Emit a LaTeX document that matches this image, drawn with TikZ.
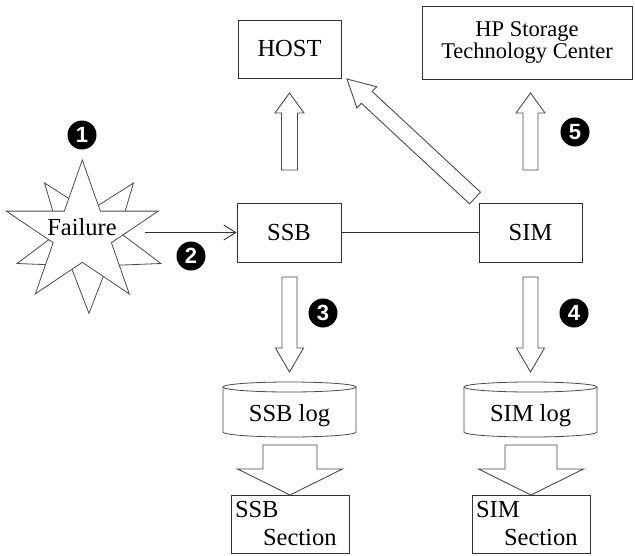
\documentclass[tikz,border=0pt]{standalone}
\usepackage{fontspec}
\setmainfont{Liberation Serif}
\newfontfamily\numfont{Liberation Sans}
\usetikzlibrary{calc,arrows.meta}
\tikzset{
  box/.style={draw=black!80, line width=0.9pt, fill=white, inner sep=0pt},
  hollow/.style={draw=black!70, line width=0.9pt, fill=white, line join=miter},
  shape line/.style={draw=black!70, line width=0.8pt, fill=white, line join=miter},
  conn/.style={draw=black!80, line width=0.9pt},
  num/.style={circle, fill=black, text=white, minimum size=29pt, inner sep=0pt,
    font=\numfont\bfseries\fontsize{22}{22}\selectfont},
}
\newcommand\hollowarr[5]{%
  \coordinate (hb) at ($(#2)!#5!(#1)$);
  \draw[hollow] ($(#1)!#3!90:(#2)$) -- ($(hb)!#3!90:(#2)$) -- ($(hb)!#4!90:(#2)$) -- (#2)
    -- ($(hb)!#4!-90:(#2)$) -- ($(hb)!#3!-90:(#2)$) -- ($(#1)!#3!-90:(#2)$) -- cycle;}
\begin{document}
\begin{tikzpicture}[x=1pt,y=-1pt, every node/.style={font=\fontsize{24.5}{28}\selectfont}]
\useasboundingbox[fill=white] (0,0) rectangle (635,555);

% Failure burst
\draw[shape line] (89,313.3) -- (107.5,265.6) -- (160.9,263.5) -- (119.0,232.0) -- (133.5,183.0)
  -- (89,211.3) -- (44.5,183.0) -- (59.0,232.0) -- (17.1,263.5) -- (70.5,265.6) -- cycle;
\draw[shape line] (82.3,160) -- (100.3,211.1) -- (158.3,211.1) -- (111.4,242.7) -- (129.3,293.9)
  -- (82.3,262.3) -- (35.3,293.9) -- (53.2,242.7) -- (6.3,211.1) -- (64.3,211.1) -- cycle;
\node (failure) at (82,227) {Failure};

% boxes
\node[box, minimum width=103pt, minimum height=58pt] (host) at (289.5,49) {HOST};
\node[box, minimum width=210pt, minimum height=73pt, align=center,
  font=\fontsize{22.5}{22}\selectfont] (hp) at (527,42.5) {HP Storage\\Technology Center};
\node[box, minimum width=104pt, minimum height=59pt] (ssb) at (289,232.5) {SSB};
\node[box, minimum width=103pt, minimum height=59pt] (sim) at (530.5,232.5) {SIM};
\node[box, minimum height=58pt, text width=110pt, inner xsep=4pt, align=left] (ssbsec) at (290,524) {SSB\\\hspace*{28pt}Section};
\node[box, minimum height=58pt, text width=110pt, inner xsep=4pt, align=left] (simsec) at (531,524) {SIM\\\hspace*{28pt}Section};

% logs (cylinders)
\draw[shape line] (223,387) -- (223,432) arc[start angle=180, end angle=360, x radius=66.5pt, y radius=5pt] -- (356,387);
\draw[shape line] (289.5,387) ellipse[x radius=66.5pt, y radius=5pt];
\node[anchor=base] (ssblog) at (289.5,421) {SSB log};
\draw[shape line] (464,387) -- (464,432) arc[start angle=180, end angle=360, x radius=66.5pt, y radius=5pt] -- (597,387);
\draw[shape line] (530.5,387) ellipse[x radius=66.5pt, y radius=5pt];
\node[anchor=base] (simlog) at (530.5,421) {SIM log};

% connectors
\coordinate (fstart) at (145,232.5);
\draw[conn, -{Straight Barb[length=12pt,width=15pt]}] (fstart) -- (ssb.west);
\draw[conn] (ssb.east) -- (sim.west);

% hollow arrows
\coordinate (u1t) at (289.5,170); \coordinate (u1h) at (289.5,93);
\coordinate (u2t) at (530.5,170); \coordinate (u2h) at (530.5,93);
\coordinate (d1t) at (289.5,277); \coordinate (d1h) at (289.5,372);
\coordinate (d2t) at (530.5,277); \coordinate (d2h) at (530.5,372);
\coordinate (dgt) at (475,198); \coordinate (dgh) at (347,79);
\coordinate (f1t) at (290,445); \coordinate (f1h) at (290,495);
\coordinate (f2t) at (531,445); \coordinate (f2h) at (531,495);
\hollowarr{u1t}{u1h}{8pt}{14.5pt}{20pt}
\hollowarr{u2t}{u2h}{7.5pt}{14.5pt}{20pt}
\hollowarr{d1t}{d1h}{7.5pt}{14pt}{24pt}
\hollowarr{d2t}{d2h}{7.5pt}{14pt}{24pt}
\hollowarr{dgt}{dgh}{8pt}{14.5pt}{27pt}
\hollowarr{f1t}{f1h}{27pt}{52.5pt}{26pt}
\hollowarr{f2t}{f2h}{26pt}{52.5pt}{26pt}

% step numbers
\node[num] (n1) at (82,135) {1};
\node[num] (n2) at (191,256) {2};
\node[num] (n3) at (323,313) {3};
\node[num] (n4) at (574,313) {4};
\node[num] (n5) at (575,132) {5};
\end{tikzpicture}
\end{document}
